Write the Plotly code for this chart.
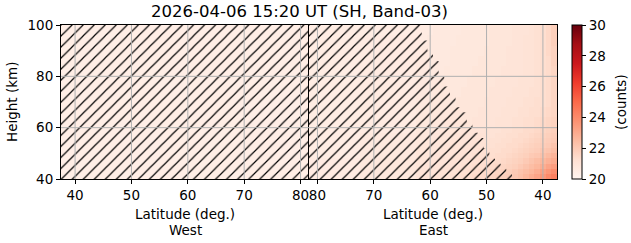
import plotly.graph_objects as go

# ---------------- data ----------------
TITLE = "2026-04-06 15:20 UT (SH, Band-03)"
X_TICKS = [40, 50, 60, 70, 80]
Y_TICKS = [40, 60, 80, 100]
CB_TICKS = [20, 22, 24, 26, 28, 30]
LAT_RANGE = [37.5, 81.5]
HEIGHT_RANGE = [40, 100]

# West panel: uniform field (all hatched)
WEST_LAT_EDGES = [37.5, 59.5, 81.5]
WEST_HEIGHT_EDGES = [40, 70, 100]
WEST_Z = [
    [20.4, 20.4],
    [20.4, 20.4],
]

# East panel field (lat cell edges, height cell edges)
EAST_LAT_EDGES = [37.5, 38.5, 39.5, 40.5, 41.5, 42.5, 43.5, 44.5, 45.5, 46.5, 47.5,
                  48.5, 49.5, 50.5, 51.5, 52.5, 53.5, 54.5, 55.5, 56.5, 57.5, 58.5,
                  59.5, 60.5, 61.5, 62.5, 72.5, 81.5]
EAST_HEIGHT_EDGES = [40, 42, 44, 46, 48, 50, 52, 54, 56, 58, 60,
                     64, 68, 72, 76, 80, 84, 88, 92, 96, 100]
EAST_Z = [
    [24.3, 24.0, 23.6, 23.2, 22.9, 22.6, 22.3, 22.1, 21.9, 21.8, 21.7, 21.6, 21.5, 21.4, 21.4, 21.3, 21.3, 21.2, 21.2, 21.1, 21.1, 21.1, 21.0, 21.0, 21.0, 20.8, 20.6],
    [23.9, 23.6, 23.3, 22.9, 22.6, 22.4, 22.2, 22.0, 21.8, 21.7, 21.6, 21.5, 21.4, 21.4, 21.3, 21.3, 21.2, 21.2, 21.1, 21.1, 21.1, 21.0, 21.0, 21.0, 21.0, 20.8, 20.6],
    [23.4, 23.2, 22.9, 22.6, 22.4, 22.2, 22.0, 21.8, 21.7, 21.6, 21.5, 21.4, 21.4, 21.3, 21.3, 21.2, 21.2, 21.1, 21.1, 21.1, 21.0, 21.0, 21.0, 21.0, 20.9, 20.8, 20.6],
    [23.0, 22.8, 22.6, 22.4, 22.2, 22.0, 21.8, 21.7, 21.6, 21.5, 21.4, 21.4, 21.3, 21.3, 21.2, 21.2, 21.1, 21.1, 21.1, 21.0, 21.0, 21.0, 21.0, 20.9, 20.9, 20.8, 20.6],
    [22.7, 22.5, 22.3, 22.1, 22.0, 21.8, 21.7, 21.6, 21.5, 21.4, 21.4, 21.3, 21.3, 21.2, 21.2, 21.1, 21.1, 21.1, 21.0, 21.0, 21.0, 21.0, 20.9, 20.9, 20.9, 20.7, 20.5],
    [22.4, 22.2, 22.1, 21.9, 21.8, 21.7, 21.6, 21.5, 21.4, 21.4, 21.3, 21.3, 21.2, 21.2, 21.1, 21.1, 21.1, 21.0, 21.0, 21.0, 21.0, 20.9, 20.9, 20.9, 20.9, 20.7, 20.5],
    [22.2, 22.0, 21.9, 21.8, 21.7, 21.6, 21.5, 21.4, 21.4, 21.3, 21.3, 21.2, 21.2, 21.1, 21.1, 21.1, 21.0, 21.0, 21.0, 21.0, 20.9, 20.9, 20.9, 20.9, 20.8, 20.7, 20.5],
    [22.0, 21.9, 21.8, 21.7, 21.6, 21.5, 21.4, 21.4, 21.3, 21.3, 21.2, 21.2, 21.1, 21.1, 21.1, 21.0, 21.0, 21.0, 21.0, 20.9, 20.9, 20.9, 20.9, 20.8, 20.8, 20.7, 20.5],
    [21.9, 21.8, 21.7, 21.6, 21.5, 21.4, 21.4, 21.3, 21.3, 21.2, 21.2, 21.1, 21.1, 21.1, 21.0, 21.0, 21.0, 21.0, 20.9, 20.9, 20.9, 20.9, 20.8, 20.8, 20.8, 20.7, 20.5],
    [21.8, 21.7, 21.6, 21.5, 21.4, 21.4, 21.3, 21.3, 21.2, 21.2, 21.1, 21.1, 21.1, 21.0, 21.0, 21.0, 21.0, 20.9, 20.9, 20.9, 20.9, 20.8, 20.8, 20.8, 20.8, 20.6, 20.5],
    [21.7, 21.6, 21.5, 21.4, 21.3, 21.3, 21.2, 21.2, 21.1, 21.1, 21.1, 21.0, 21.0, 21.0, 21.0, 20.9, 20.9, 20.9, 20.9, 20.9, 20.8, 20.8, 20.8, 20.8, 20.8, 20.6, 20.5],
    [21.6, 21.5, 21.4, 21.3, 21.3, 21.2, 21.2, 21.1, 21.1, 21.1, 21.0, 21.0, 21.0, 21.0, 20.9, 20.9, 20.9, 20.9, 20.9, 20.8, 20.8, 20.8, 20.8, 20.8, 20.7, 20.6, 20.5],
    [21.6, 21.4, 21.3, 21.3, 21.2, 21.2, 21.1, 21.1, 21.1, 21.0, 21.0, 21.0, 21.0, 20.9, 20.9, 20.9, 20.9, 20.9, 20.8, 20.8, 20.8, 20.8, 20.8, 20.7, 20.7, 20.6, 20.5],
    [21.6, 21.4, 21.3, 21.2, 21.2, 21.1, 21.1, 21.1, 21.0, 21.0, 21.0, 21.0, 20.9, 20.9, 20.9, 20.9, 20.9, 20.8, 20.8, 20.8, 20.8, 20.8, 20.7, 20.7, 20.7, 20.6, 20.5],
    [21.6, 21.4, 21.3, 21.2, 21.1, 21.1, 21.1, 21.0, 21.0, 21.0, 21.0, 20.9, 20.9, 20.9, 20.9, 20.9, 20.8, 20.8, 20.8, 20.8, 20.8, 20.7, 20.7, 20.7, 20.7, 20.6, 20.5],
    [21.6, 21.4, 21.3, 21.2, 21.1, 21.1, 21.0, 21.0, 21.0, 21.0, 20.9, 20.9, 20.9, 20.9, 20.9, 20.8, 20.8, 20.8, 20.8, 20.8, 20.7, 20.7, 20.7, 20.7, 20.7, 20.6, 20.5],
    [21.7, 21.4, 21.3, 21.2, 21.1, 21.1, 21.0, 21.0, 21.0, 20.9, 20.9, 20.9, 20.9, 20.9, 20.8, 20.8, 20.8, 20.8, 20.8, 20.7, 20.7, 20.7, 20.7, 20.7, 20.7, 20.6, 20.5],
    [21.7, 21.5, 21.3, 21.2, 21.1, 21.1, 21.0, 21.0, 21.0, 20.9, 20.9, 20.9, 20.9, 20.8, 20.8, 20.8, 20.8, 20.8, 20.8, 20.7, 20.7, 20.7, 20.7, 20.7, 20.6, 20.6, 20.5],
    [21.8, 21.5, 21.3, 21.2, 21.1, 21.1, 21.0, 21.0, 20.9, 20.9, 20.9, 20.9, 20.8, 20.8, 20.8, 20.8, 20.8, 20.8, 20.7, 20.7, 20.7, 20.7, 20.7, 20.6, 20.6, 20.6, 20.5],
    [21.8, 21.5, 21.3, 21.2, 21.1, 21.0, 21.0, 21.0, 20.9, 20.9, 20.9, 20.9, 20.8, 20.8, 20.8, 20.8, 20.8, 20.7, 20.7, 20.7, 20.7, 20.7, 20.6, 20.6, 20.6, 20.5, 20.5],
]

# East panel hatch: per 2-km height row, latitude at which the hatched (invalid) region starts
HATCH_HEIGHT_EDGES = [40, 42, 44, 46, 48, 50, 52, 54, 56, 58, 60, 62, 64, 66, 68, 70,
                      72, 74, 76, 78, 80, 82, 84, 86, 88, 90, 92, 94, 96, 98, 100]
HATCH_EDGE_LAT = [45.5, 46.5, 47.5, 48.5, 49.5, 49.5, 50.5, 50.5, 51.5, 52.5,
                  52.5, 53.5, 53.5, 54.5, 55.5, 55.5, 56.5, 56.5, 57.5, 57.5,
                  58.5, 58.5, 58.5, 59.5, 59.5, 60.5, 60.5, 61.5, 61.5, 61.5]

# ---------------- figure ----------------
FONT = "DejaVu Sans"
W, H = 631, 243
ML, MR, MT, MB = 61, 74, 25, 64
PW = W - ML - MR
PH = H - MT - MB


def px_to_paper_x(px):
    return (px - ML) / PW


def px_to_paper_y(py):
    return (H - MB - py) / PH


fig = go.Figure()

fig.add_trace(go.Heatmap(x=WEST_LAT_EDGES, y=WEST_HEIGHT_EDGES, z=WEST_Z,
                         coloraxis="coloraxis", xaxis="x", yaxis="y",
                         hoverinfo="skip"))
fig.add_trace(go.Heatmap(x=EAST_LAT_EDGES, y=EAST_HEIGHT_EDGES, z=EAST_Z,
                         coloraxis="coloraxis", xaxis="x2", yaxis="y2",
                         hoverinfo="skip"))

pattern = dict(shape="/", size=7.8, solidity=0.15, fgcolor="black", fgopacity=1,
               bgcolor="rgba(0,0,0,0)", fillmode="overlay")

# West hatch polygon: whole panel
wx = [LAT_RANGE[0], LAT_RANGE[1], LAT_RANGE[1], LAT_RANGE[0], LAT_RANGE[0]]
wy = [HEIGHT_RANGE[0], HEIGHT_RANGE[0], HEIGHT_RANGE[1], HEIGHT_RANGE[1], HEIGHT_RANGE[0]]
fig.add_trace(go.Scatter(x=wx, y=wy, mode="lines", fill="toself",
                         fillcolor="rgba(0,0,0,0)", fillpattern=pattern,
                         line=dict(width=0, color="rgba(0,0,0,0)"),
                         xaxis="x", yaxis="y", hoverinfo="skip", showlegend=False))

# East hatch polygon from the per-row edges (staircase)
ex = [LAT_RANGE[1], LAT_RANGE[1]]
ey = [HEIGHT_RANGE[0], HEIGHT_RANGE[1]]
for i in range(len(HATCH_EDGE_LAT) - 1, -1, -1):
    ex += [HATCH_EDGE_LAT[i], HATCH_EDGE_LAT[i]]
    ey += [HATCH_HEIGHT_EDGES[i + 1], HATCH_HEIGHT_EDGES[i]]
ex.append(LAT_RANGE[1])
ey.append(HEIGHT_RANGE[0])
fig.add_trace(go.Scatter(x=ex, y=ey, mode="lines", fill="toself",
                         fillcolor="rgba(0,0,0,0)", fillpattern=pattern,
                         line=dict(width=0, color="rgba(0,0,0,0)"),
                         xaxis="x2", yaxis="y2", hoverinfo="skip", showlegend=False))

# grid lines above the image/hatch (matplotlib style)
GRID = dict(color="#b0b0b0", width=1)
shapes = []
for xr, yr in (("x", "y"), ("x2", "y2")):
    for t in X_TICKS:
        shapes.append(dict(type="line", xref=xr, yref=yr, x0=t, x1=t,
                           y0=HEIGHT_RANGE[0], y1=HEIGHT_RANGE[1], line=GRID, layer="above"))
    for t in Y_TICKS[1:-1]:
        shapes.append(dict(type="line", xref=xr, yref=yr, x0=LAT_RANGE[0], x1=LAT_RANGE[1],
                           y0=t, y1=t, line=GRID, layer="above"))

tickfont = dict(family=FONT, size=13.5, color="black")
axis_common = dict(showline=True, linecolor="black", linewidth=1, mirror=True,
                   ticks="outside", ticklen=4, tickcolor="black", tickwidth=1,
                   showgrid=False, zeroline=False, tickfont=tickfont)

ann_font = dict(family=FONT, size=13.5, color="black")
annotations = [
    dict(text=TITLE, x=px_to_paper_x(299), y=px_to_paper_y(12), xref="paper", yref="paper",
         showarrow=False, xanchor="center", yanchor="middle",
         font=dict(family=FONT, size=16.5, color="black")),
    dict(text="Height (km)", x=px_to_paper_x(12), y=0.5, xref="paper", yref="paper",
         showarrow=False, textangle=-90, xanchor="center", yanchor="middle", font=ann_font),
    dict(text="Latitude (deg.)", x=0.25, y=px_to_paper_y(214), xref="paper", yref="paper",
         showarrow=False, xanchor="center", yanchor="middle", font=ann_font),
    dict(text="West", x=0.25, y=px_to_paper_y(230), xref="paper", yref="paper",
         showarrow=False, xanchor="center", yanchor="middle", font=ann_font),
    dict(text="Latitude (deg.)", x=0.75, y=px_to_paper_y(214), xref="paper", yref="paper",
         showarrow=False, xanchor="center", yanchor="middle", font=ann_font),
    dict(text="East", x=0.75, y=px_to_paper_y(230), xref="paper", yref="paper",
         showarrow=False, xanchor="center", yanchor="middle", font=ann_font),
    dict(text="(counts)", x=px_to_paper_x(621), y=0.5, xref="paper", yref="paper",
         showarrow=False, textangle=-90, xanchor="center", yanchor="middle", font=ann_font),
]

fig.update_layout(
    width=W, height=H,
    margin=dict(l=ML, r=MR, t=MT, b=MB, pad=0),
    paper_bgcolor="white", plot_bgcolor="white",
    font=dict(family=FONT, color="black"),
    showlegend=False,
    xaxis=dict(domain=[0, 0.5], range=LAT_RANGE, tickvals=X_TICKS, anchor="y", **axis_common),
    yaxis=dict(domain=[0, 1], range=HEIGHT_RANGE, tickvals=Y_TICKS, anchor="x", **axis_common),
    xaxis2=dict(domain=[0.5, 1], range=LAT_RANGE[::-1], tickvals=X_TICKS, anchor="y2", **axis_common),
    yaxis2=dict(domain=[0, 1], range=HEIGHT_RANGE, tickvals=Y_TICKS, anchor="x2",
                showticklabels=False, **{k: v for k, v in axis_common.items() if k != "ticks"}, ticks=""),
    coloraxis=dict(
        colorscale="Reds", cmin=20, cmax=30,
        colorbar=dict(x=px_to_paper_x(572), xanchor="left", xpad=0, ypad=0,
                      y=0.5, yanchor="middle", len=1, lenmode="fraction",
                      thickness=10, thicknessmode="pixels",
                      outlinecolor="black", outlinewidth=1,
                      tickvals=CB_TICKS, ticks="outside", ticklen=4, tickcolor="black",
                      tickfont=tickfont),
    ),
    shapes=shapes,
    annotations=annotations,
)

fig.write_html("out.html")
